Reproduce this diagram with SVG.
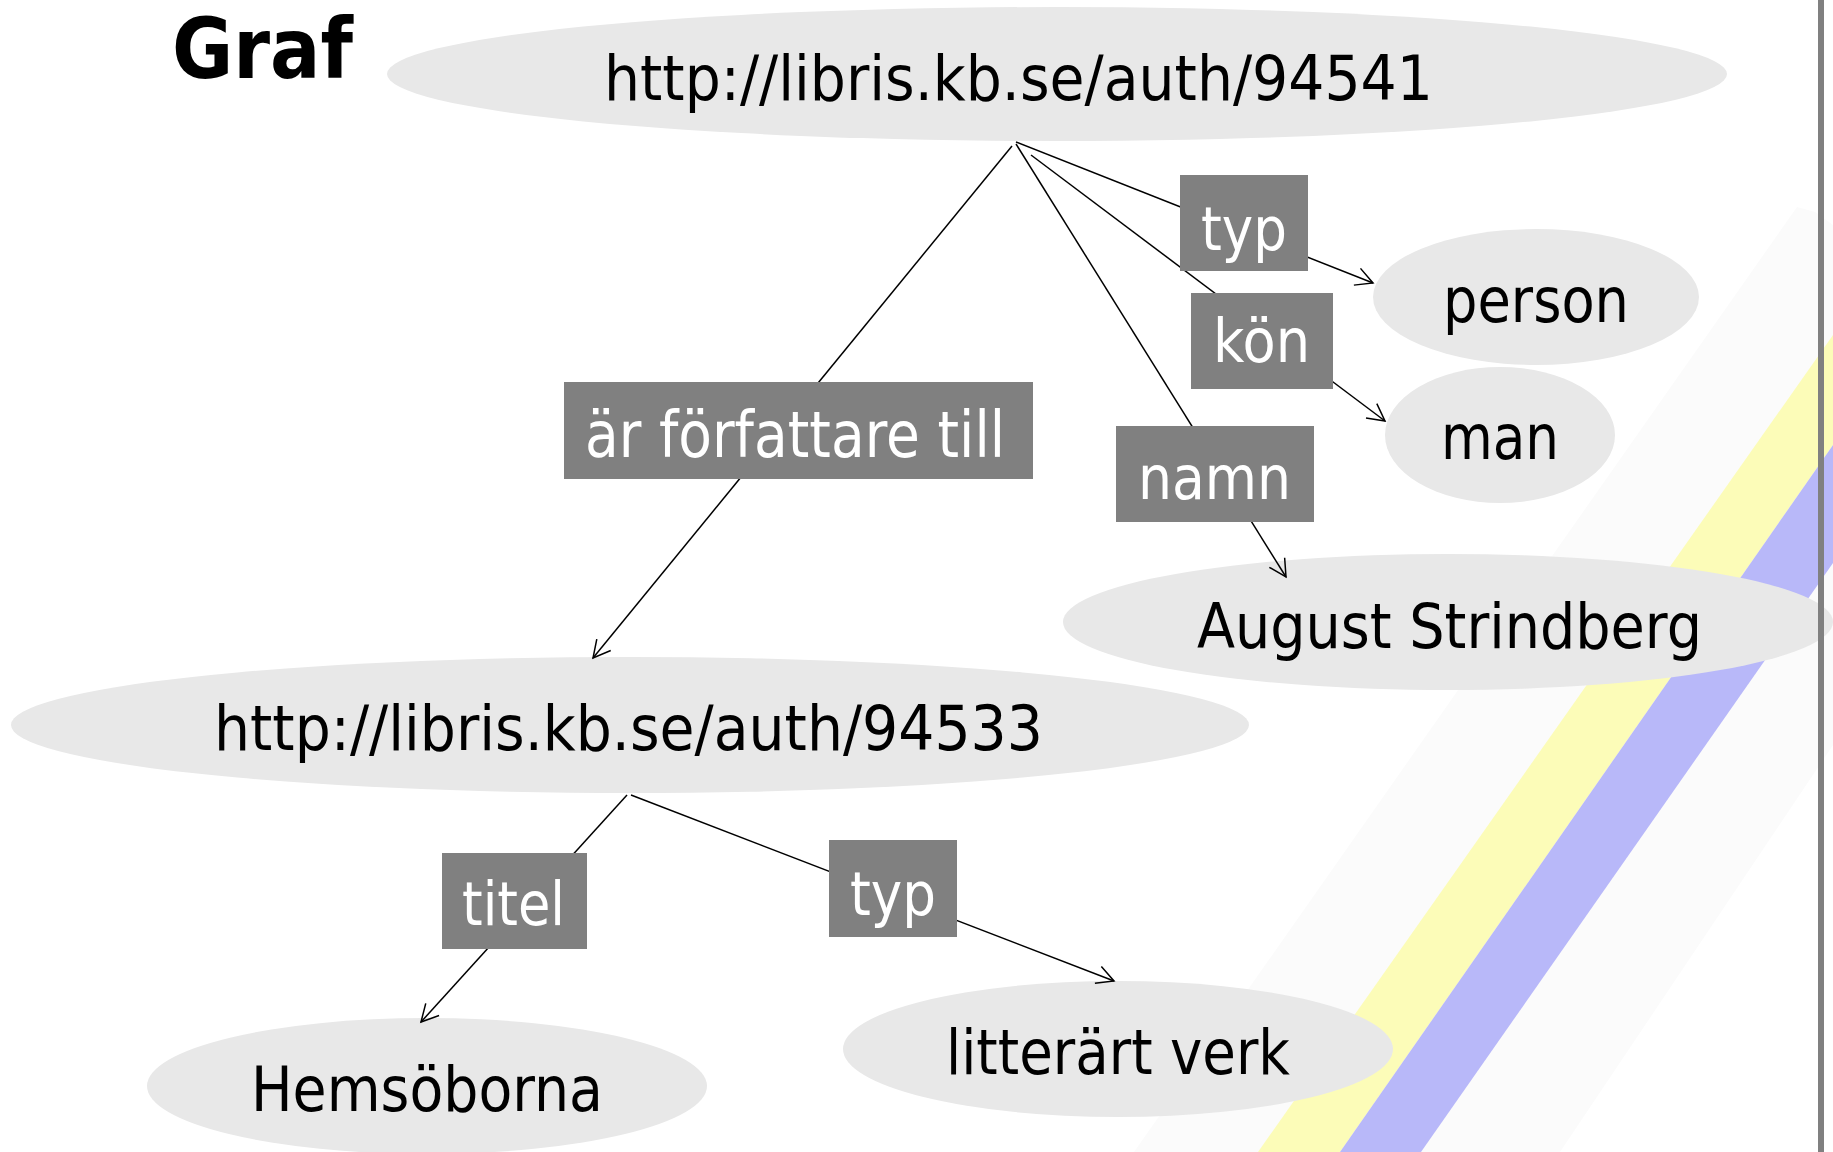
<svg xmlns="http://www.w3.org/2000/svg" width="1833" height="1152" viewBox="0 0 1833 1152">
<style>
.node ellipse{fill:#e8e8e8}
.node text{font-family:"DejaVu Sans","Liberation Sans",sans-serif;font-size:62px;fill:#000}
.lbl rect{fill:#808080}
.lbl text{font-family:"DejaVu Sans","Liberation Sans",sans-serif;font-size:60px;fill:#fff}
.edge{stroke:#000;stroke-width:1.5;fill:none;marker-end:url(#arr)}
</style>
<defs>
<marker id="arr" viewBox="-20 -11 22 22" refX="0" refY="0" markerWidth="22" markerHeight="22" markerUnits="userSpaceOnUse" orient="auto" overflow="visible">
<path d="M-17,-9 L0,0 L-17,9" fill="none" stroke="#000" stroke-width="1.5"/>
</marker>
</defs>
<rect x="0" y="0" width="1833" height="1152" fill="#fff"/>
<g id="background">
<polygon points="1134,1152 1797,207 1815,212 1833,225 1833,745 1560,1152" fill="#fbfbfb"/>
<polygon points="1258,1152 1833,335 1833,445 1340,1152" fill="#fcfcb8"/>
<polygon points="1340,1152 1833,445 1833,563 1421,1152" fill="#b8b8f9"/>
</g>
<text id="title" x="172" y="78" font-family="'DejaVu Sans','Liberation Sans',sans-serif" font-weight="bold" font-size="84" textLength="181" lengthAdjust="spacingAndGlyphs">Graf</text>
<g id="node-auth94541" class="node">
<ellipse cx="1057" cy="74" rx="670" ry="67"/>
<text x="604" y="100" textLength="829" lengthAdjust="spacingAndGlyphs">http://libris.kb.se/auth/94541</text>
</g>
<g id="node-person" class="node">
<ellipse cx="1536" cy="297" rx="163" ry="68"/>
<text x="1443" y="322" textLength="186" lengthAdjust="spacingAndGlyphs">person</text>
</g>
<g id="node-man" class="node">
<ellipse cx="1500" cy="435" rx="115" ry="68"/>
<text x="1441" y="459" textLength="118" lengthAdjust="spacingAndGlyphs">man</text>
</g>
<g id="node-strindberg" class="node">
<ellipse cx="1448" cy="622" rx="385" ry="68"/>
<text x="1197" y="648" textLength="505" lengthAdjust="spacingAndGlyphs">August Strindberg</text>
</g>
<g id="node-auth94533" class="node">
<ellipse cx="630" cy="725" rx="619" ry="68"/>
<text x="214" y="750" textLength="829" lengthAdjust="spacingAndGlyphs">http://libris.kb.se/auth/94533</text>
</g>
<g id="node-hemsoborna" class="node">
<ellipse cx="427" cy="1086" rx="280" ry="68"/>
<text x="251" y="1111" textLength="352" lengthAdjust="spacingAndGlyphs">Hemsöborna</text>
</g>
<g id="node-litterart" class="node">
<ellipse cx="1118" cy="1049" rx="275" ry="68"/>
<text x="946" y="1074" textLength="344" lengthAdjust="spacingAndGlyphs">litterärt verk</text>
</g>
<g id="connectors">
<line class="edge" x1="1012" y1="146" x2="593" y2="658"/>
<line class="edge" x1="1016" y1="142" x2="1373" y2="283"/>
<line class="edge" x1="1031" y1="155" x2="1385" y2="421"/>
<line class="edge" x1="1016" y1="144" x2="1286" y2="577"/>
<line class="edge" x1="627" y1="795" x2="421" y2="1022"/>
<line class="edge" x1="631" y1="795" x2="1114" y2="981"/>
</g>
<g id="label-forfattare" class="lbl">
<rect x="564" y="382" width="469" height="97"/>
<text x="585" y="457" style="font-size:64px" textLength="420" lengthAdjust="spacingAndGlyphs">är författare till</text>
</g>
<g id="label-typ1" class="lbl">
<rect x="1180" y="175" width="128" height="96"/>
<text x="1201" y="250" textLength="86" lengthAdjust="spacingAndGlyphs">typ</text>
</g>
<g id="label-kon" class="lbl">
<rect x="1191" y="293" width="142" height="96"/>
<text x="1213" y="362" textLength="97" lengthAdjust="spacingAndGlyphs">kön</text>
</g>
<g id="label-namn" class="lbl">
<rect x="1116" y="426" width="198" height="96"/>
<text x="1138" y="499" textLength="153" lengthAdjust="spacingAndGlyphs">namn</text>
</g>
<g id="label-titel" class="lbl">
<rect x="442" y="853" width="145" height="96"/>
<text x="462" y="925" textLength="103" lengthAdjust="spacingAndGlyphs">titel</text>
</g>
<g id="label-typ2" class="lbl">
<rect x="829" y="840" width="128" height="97"/>
<text x="850" y="915" textLength="86" lengthAdjust="spacingAndGlyphs">typ</text>
</g>
<rect id="border" x="1818" y="0" width="6" height="1152" fill="#808080"/>
</svg>
